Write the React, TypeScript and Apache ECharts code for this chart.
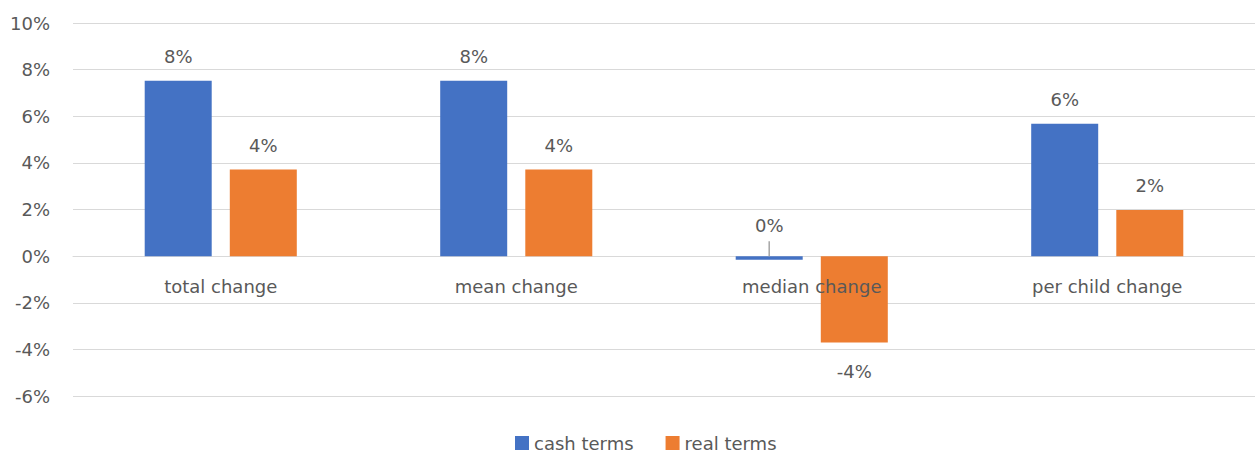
import React, { useEffect, useRef } from "react";
import * as echarts from "echarts";

const categories = ["total change", "mean change", "median change", "per child change"];
const cashTerms = [7.52, 7.52, -0.16, 5.68];
const realTerms = [3.72, 3.72, -3.7, 1.98];
const seriesNames = ["cash terms", "real terms"];
const yTicks = { min: -6, max: 10, interval: 2 };

const FONT = "DejaVu Sans";
const TXT = "#595959";

function fmt(v: number) {
  return `${Math.round(v)}%`;
}

function buildData(values: number[], leaderIndex: number | null) {
  return values.map((v, i) => {
    if (i === leaderIndex) {
      return {
        value: v,
        label: {
          position: "top",
          distance: 0,
          formatter: (p: any) => `{a|${fmt(p.value)}}\n{b|}`,
          rich: {
            a: { fontFamily: FONT, fontSize: 18, color: TXT, lineHeight: 32 },
            b: { width: 1.5, height: 15, backgroundColor: "#A6A6A6" },
          },
        },
      };
    }
    if (v < 0) {
      return { value: v, label: { position: "bottom", distance: 20 } };
    }
    return { value: v };
  });
}

export default function App() {
  const ref = useRef<HTMLDivElement>(null);
  useEffect(() => {
    document.body.style.margin = "0";
    const chart = echarts.init(ref.current!, null, { renderer: "svg" });
    const labelBase = {
      show: true,
      position: "top",
      distance: 15,
      fontFamily: FONT,
      fontSize: 18,
      color: TXT,
      formatter: (p: any) => fmt(p.value),
    };
    chart.setOption({
      animation: false,
      textStyle: { fontFamily: FONT },
      grid: { left: 73, top: 23, width: 1194, bottom: 61, containLabel: false },
      legend: {
        top: 433,
        left: 510,
        icon: "rect",
        itemWidth: 14,
        itemHeight: 14,
        itemGap: 32,
        padding: [0, 5, 0, 5],
        textStyle: { fontFamily: FONT, fontSize: 18, color: TXT, lineHeight: 20 },
        data: seriesNames,
      },
      xAxis: {
        type: "category",
        data: categories,
        axisLine: { show: true, onZero: true, lineStyle: { color: "#D9D9D9", width: 1 } },
        axisTick: { show: false },
        axisLabel: { show: false },
      },
      yAxis: {
        type: "value",
        min: yTicks.min,
        max: yTicks.max,
        interval: yTicks.interval,
        axisLine: { show: false },
        axisTick: { show: false },
        axisLabel: {
          fontFamily: FONT,
          fontSize: 18,
          color: TXT,
          margin: 23,
          formatter: (v: number) => `${v}%`,
        },
        splitLine: { lineStyle: { color: "#D9D9D9", width: 1 } },
      },
      series: [
        {
          name: seriesNames[0],
          type: "bar",
          barWidth: 67,
          barGap: "27%",
          itemStyle: { color: "#4472C4" },
          label: labelBase,
          data: buildData(cashTerms, 2),
        },
        {
          name: seriesNames[1],
          type: "bar",
          barWidth: 67,
          barGap: "27%",
          itemStyle: { color: "#ED7D31" },
          label: labelBase,
          data: buildData(realTerms, null),
        },
        {
          name: "category labels",
          type: "scatter",
          symbolSize: 0,
          silent: true,
          z: 10,
          itemStyle: { opacity: 1, color: "transparent" },
          label: {
            show: true,
            position: "bottom",
            distance: 21,
            fontFamily: FONT,
            fontSize: 18,
            color: TXT,
            opacity: 1,
            formatter: (p: any) => p.name,
          },
          data: categories.map((c) => [c, 0]),
        },
      ],
    });
    return () => chart.dispose();
  }, []);
  return <div ref={ref} style={{ width: 1255, height: 457 }} />;
}
